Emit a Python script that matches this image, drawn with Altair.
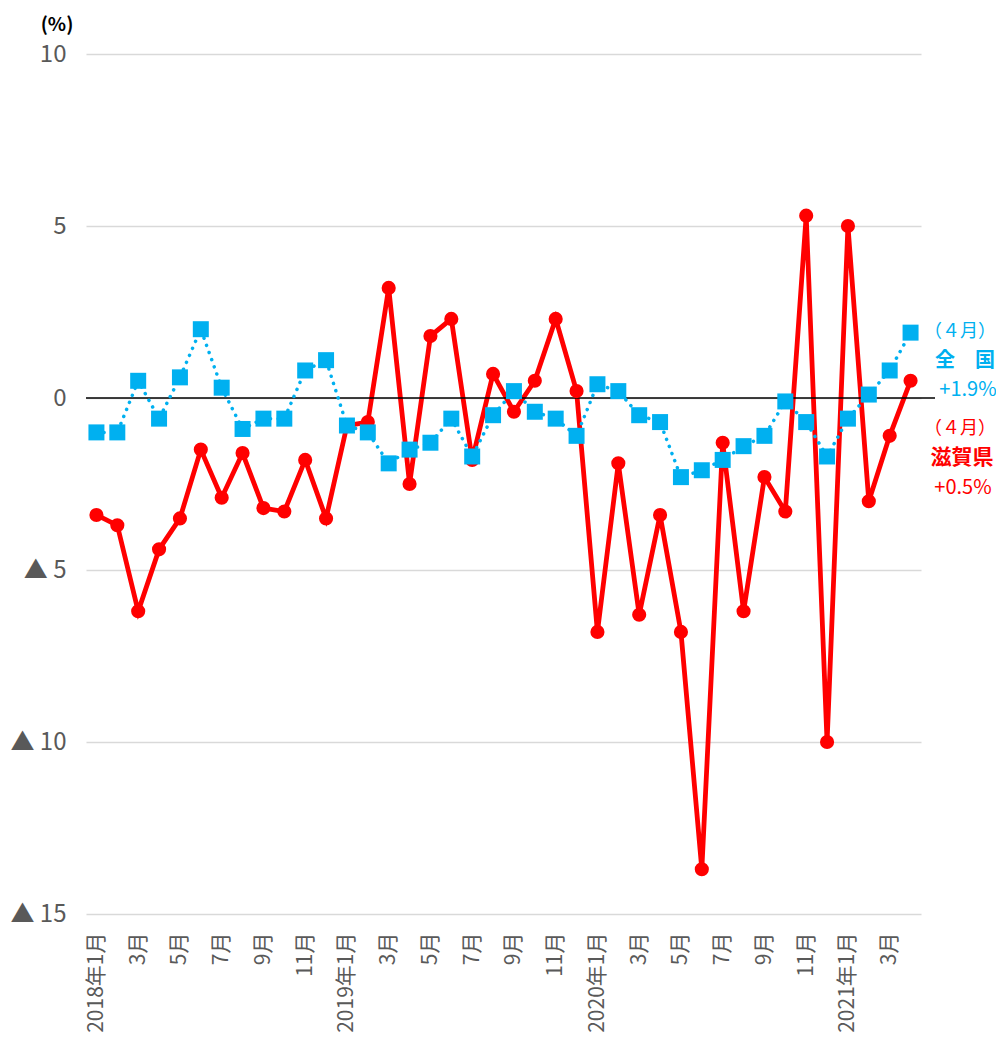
import json
import altair as alt
import pandas as pd

# 月ラベル（2018年1月〜2021年4月）
month_labels = []
for yr in [2018, 2019, 2020, 2021]:
    for m in range(1, 13):
        if yr == 2021 and m > 4:
            break
        month_labels.append(f"{yr}年1月" if m == 1 else f"{m}月")

# 滋賀県（前年同月比, %）
shiga = [-3.4, -3.7, -6.2, -4.4, -3.5, -1.5, -2.9, -1.6, -3.2, -3.3, -1.8, -3.5,
         -0.8, -0.7, 3.2, -2.5, 1.8, 2.3, -1.8, 0.7, -0.4, 0.5, 2.3, 0.2,
         -6.8, -1.9, -6.3, -3.4, -6.8, -13.7, -1.3, -6.2, -2.3, -3.3, 5.3, -10.0,
         5.0, -3.0, -1.1, 0.5]
# 全国（前年同月比, %）
zenkoku = [-1.0, -1.0, 0.5, -0.6, 0.6, 2.0, 0.3, -0.9, -0.6, -0.6, 0.8, 1.1,
           -0.8, -1.0, -1.9, -1.5, -1.3, -0.6, -1.7, -0.5, 0.2, -0.4, -0.6, -1.1,
           0.4, 0.2, -0.5, -0.7, -2.3, -2.1, -1.8, -1.4, -1.1, -0.1, -0.7, -1.7,
           -0.6, 0.1, 0.8, 1.9]

y_ticks = [-15, -10, -5, 0, 5, 10]
x_tick_idx = list(range(0, len(month_labels), 2))

df = pd.DataFrame({
    "idx": list(range(len(month_labels))),
    "shiga": shiga,
    "zenkoku": zenkoku,
})

FONT = "Noto Sans CJK JP"
RED = "#ff0000"
BLUE = "#00b0f0"

label_expr = json.dumps(month_labels, ensure_ascii=False) + "[datum.value]"

x_enc = alt.X(
    "idx:O",
    scale=alt.Scale(paddingOuter=0.5),
    axis=alt.Axis(
        values=x_tick_idx,
        labelExpr=label_expr,
        labelAngle=270,
        labelAlign="right",
        labelBaseline="middle",
        labelFont=FONT,
        labelFontSize=21,
        labelColor="#595959",
        labelPadding=18,
        ticks=False,
        domain=False,
        grid=False,
        title=None,
    ),
)

y_scale = alt.Scale(domain=[-15, 10], nice=False, zero=False)
y_axis = alt.Axis(
    values=y_ticks,
    labelExpr="datum.value < 0 ? '▲ ' + abs(datum.value) : '' + datum.value",
    labelFont=FONT,
    labelFontSize=24,
    labelColor="#595959",
    labelPadding=20,
    ticks=False,
    domain=False,
    grid=True,
    gridColor="#d9d9d9",
    gridWidth=1.5,
    title=None,
)

base = alt.Chart(df)

red_line = base.mark_line(color=RED, strokeWidth=4.8).encode(
    x=x_enc, y=alt.Y("shiga:Q", scale=y_scale, axis=y_axis)
)
red_pts = base.mark_point(shape="circle", filled=True, opacity=1, color=RED, size=200).encode(
    x=x_enc, y=alt.Y("shiga:Q", scale=y_scale)
)

zero = alt.Chart(pd.DataFrame({"v": [0]})).mark_rule(color="#000000", strokeWidth=1.6).encode(
    x=alt.value(0), x2=alt.value(849), y=alt.Y("v:Q", scale=y_scale)
)

blue_line = base.mark_line(
    color=BLUE, strokeWidth=3.5, strokeDash=[0.1, 7.5], strokeCap="round"
).encode(x=x_enc, y=alt.Y("zenkoku:Q", scale=y_scale))
blue_pts = base.mark_point(shape="square", filled=True, opacity=1, color=BLUE, size=256).encode(
    x=x_enc, y=alt.Y("zenkoku:Q", scale=y_scale)
)

def txt(t, x, y, color, size=20, weight="normal"):
    return alt.Chart(pd.DataFrame({"t": [t]})).mark_text(
        font=FONT, fontSize=size, fontWeight=weight, color=color,
        align="center", baseline="middle"
    ).encode(x=alt.value(x), y=alt.value(y), text="t:N")

annots = [
    txt("（４月）", 874, 278, BLUE, size=18),
    txt("全　国", 879, 307, BLUE, size=20, weight="bold"),
    txt("+1.9%", 882, 336, BLUE),
    txt("（４月）", 874, 375, RED, size=18),
    txt("滋賀県", 876, 404, RED, size=21, weight="bold"),
    txt("+0.5%", 877, 434, RED),
    txt("(%)", -29, -29, "#000000", size=19, weight="bold"),
]

chart = alt.layer(
    red_line, zero, red_pts, blue_line, blue_pts, *annots
).properties(
    width=835,
    height=860,
    autosize=alt.AutoSizeParams(type="none"),
    padding={"left": 78, "top": 46, "right": 75, "bottom": 126},
).configure(background="white").configure_view(strokeWidth=0)

chart.save("out.html", embed_options={"renderer": "svg", "actions": False})
